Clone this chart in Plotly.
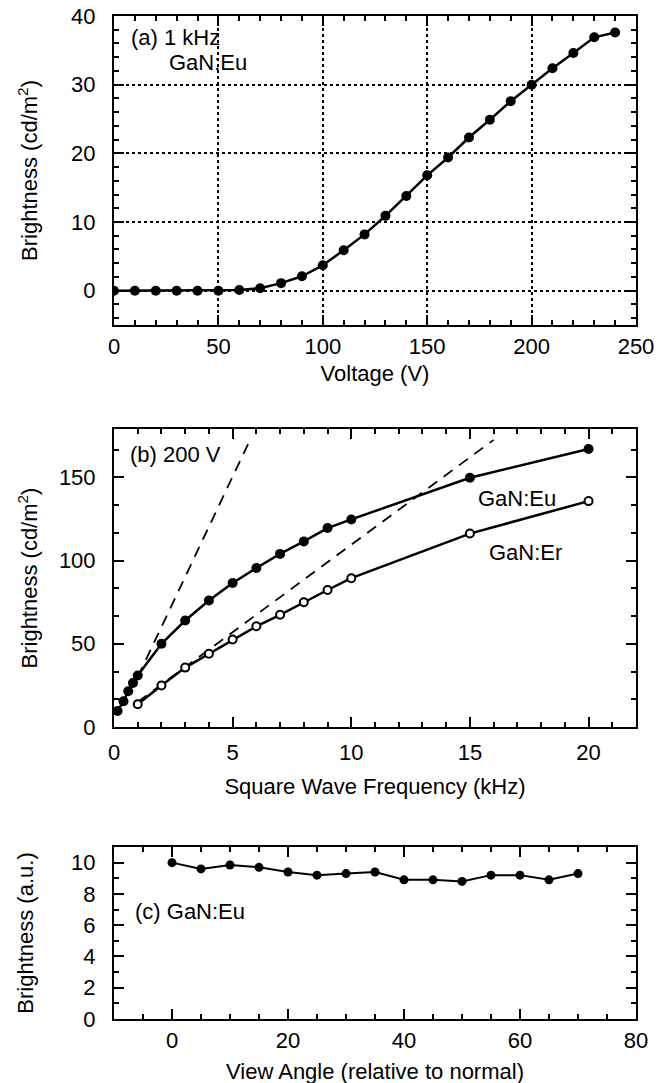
import plotly.graph_objects as go
from plotly.subplots import make_subplots

# ---- Panel (a): brightness vs voltage, 1 kHz, GaN:Eu
volt = [0, 10, 20, 30, 40, 50, 60, 70, 80, 90, 100, 110, 120, 130, 140, 150,
        160, 170, 180, 190, 200, 210, 220, 230, 240]
bright_a = [0, 0, 0, 0, 0, 0, 0.1, 0.35, 1.1, 2.1, 3.7, 5.9, 8.2, 10.9, 13.8, 16.8,
            19.4, 22.3, 24.9, 27.6, 30.0, 32.4, 34.6, 36.9, 37.6]

# ---- Panel (b): brightness vs square wave frequency, 200 V
freq_eu = [0.15, 0.4, 0.6, 0.8, 1.0, 2, 3, 4, 5, 6, 7, 8, 9, 10, 15, 20]
bright_eu = [9.6, 15.5, 21.5, 26.5, 31, 50, 64, 76, 86.5, 95.5, 104, 111.5, 119.5, 124.7, 149.7, 167]
freq_er = [1, 2, 3, 4, 5, 6, 7, 8, 9, 10, 15, 20]
bright_er = [13.7, 25, 35.7, 44, 52.6, 60.5, 67.4, 75, 82.3, 89.4, 116.2, 135.7]
dash_eu_x = [1.0, 5.65]
dash_eu_y = [30, 170]
dash_er_x = [1.0, 16.0]
dash_er_y = [15, 172.5]

# ---- Panel (c): brightness vs view angle
angle = [0, 5, 10, 15, 20, 25, 30, 35, 40, 45, 50, 55, 60, 65, 70]
bright_c = [10.0, 9.6, 9.85, 9.7, 9.4, 9.2, 9.3, 9.4, 8.9, 8.9, 8.8, 9.2, 9.2, 8.9, 9.3]

FONT = "Liberation Sans, Arial, Helvetica, sans-serif"
FS = 22
BLACK = "#000000"

fig = make_subplots(rows=3, cols=1)

fig.add_trace(go.Scatter(x=volt, y=bright_a, mode="lines+markers",
                         line=dict(color=BLACK, width=2.5),
                         marker=dict(color=BLACK, size=10),
                         showlegend=False), row=1, col=1)

fig.add_trace(go.Scatter(x=dash_eu_x, y=dash_eu_y, mode="lines",
                         line=dict(color=BLACK, width=1.8, dash="11px,8px"),
                         showlegend=False), row=2, col=1)
fig.add_trace(go.Scatter(x=dash_er_x, y=dash_er_y, mode="lines",
                         line=dict(color=BLACK, width=1.8, dash="11px,8px"),
                         showlegend=False), row=2, col=1)
fig.add_trace(go.Scatter(x=freq_eu, y=bright_eu, mode="lines+markers",
                         line=dict(color=BLACK, width=2.5),
                         marker=dict(color=BLACK, size=10),
                         showlegend=False), row=2, col=1)
fig.add_trace(go.Scatter(x=freq_er, y=bright_er, mode="lines+markers",
                         line=dict(color=BLACK, width=2.5),
                         marker=dict(color="white", size=8,
                                     line=dict(color=BLACK, width=2)),
                         showlegend=False), row=2, col=1)

fig.add_trace(go.Scatter(x=angle, y=bright_c, mode="lines+markers",
                         line=dict(color=BLACK, width=2),
                         marker=dict(color=BLACK, size=9),
                         showlegend=False), row=3, col=1)


def minor(dt, t0=0):
    return dict(dtick=dt, tick0=t0, ticks="inside", ticklen=5, tickwidth=2,
                tickcolor=BLACK, showgrid=False)


def ttl(text, standoff):
    return dict(text=text, font=dict(family=FONT, size=FS, color=BLACK), standoff=standoff)


common = dict(showline=True, linecolor=BLACK, linewidth=2, mirror="allticks",
              ticks="inside", ticklen=10, tickwidth=2, tickcolor=BLACK,
              tickfont=dict(family=FONT, size=FS, color=BLACK),
              ticklabeloverflow="allow",
              zeroline=False, automargin=False)

# panel a axes
fig.update_xaxes(range=[0, 250], dtick=50, tick0=0, minor=minor(10),
                 showgrid=True, gridcolor=BLACK, griddash="dot", gridwidth=1.5,
                 title=ttl("Voltage (V)", 7), ticklabelstandoff=1,
                 domain=[0, 1], row=1, col=1, **common)
fig.update_yaxes(range=[-5, 40], dtick=10, tick0=0, minor=minor(2),
                 showgrid=True, gridcolor=BLACK, griddash="dot", gridwidth=1.5,
                 title=ttl("Brightness (cd/m<sup>2</sup>)", 27), ticklabelstandoff=12,
                 domain=[0.6919, 1.0], row=1, col=1, **common)

# panel b axes
fig.update_xaxes(range=[0, 22], dtick=5, tick0=0, minor=minor(1), showgrid=False,
                 title=ttl("Square Wave Frequency (kHz)", 14), ticklabelstandoff=5,
                 domain=[0, 1], row=2, col=1, **common)
fig.update_yaxes(range=[0, 179], dtick=50, tick0=0, minor=minor(50 / 3), showgrid=False,
                 title=ttl("Brightness (cd/m<sup>2</sup>)", 15), ticklabelstandoff=12,
                 domain=[0.2911, 0.5882], row=2, col=1, **common)

# panel c axes
fig.update_xaxes(range=[-10, 80], dtick=20, tick0=0, minor=minor(5), showgrid=False,
                 title=ttl("View Angle (relative to normal)", 11), ticklabelstandoff=1,
                 domain=[0, 1], row=3, col=1, **common)
fig.update_yaxes(range=[0, 11], dtick=2, tick0=0, minor=minor(1), showgrid=False,
                 title=ttl("Brightness (a.u.)", 31), ticklabelstandoff=12,
                 domain=[0.0, 0.1715], row=3, col=1, **common)

ann_font = dict(family=FONT, size=FS, color=BLACK)
annotations = [
    dict(xref="x", yref="y", x=7, y=36.8, text="(a) 1 kHz", xanchor="left", yanchor="middle"),
    dict(xref="x", yref="y", x=25.4, y=33.3, text="GaN:Eu", xanchor="left", yanchor="middle"),
    dict(xref="x2", yref="y2", x=0.6, y=163.5, text="(b) 200 V", xanchor="left", yanchor="middle"),
    dict(xref="x2", yref="y2", x=15.25, y=137.5, text="GaN:Eu", xanchor="left", yanchor="middle"),
    dict(xref="x2", yref="y2", x=15.7, y=105, text="GaN:Er", xanchor="left", yanchor="middle"),
    dict(xref="x3", yref="y3", x=-6.7, y=6.85, text="(c) GaN:Eu", xanchor="left", yanchor="middle"),
]
for a in annotations:
    a.update(showarrow=False, font=ann_font)

# the page body adds an 8 px offset; margins compensate so the plot areas land
# where they are in the reference
fig.update_layout(
    width=666, height=1083,
    margin=dict(l=106, r=38, t=8, b=72),
    plot_bgcolor="white", paper_bgcolor="white",
    annotations=annotations,
    font=dict(family=FONT, color=BLACK),
)

fig.write_html("out.html")
